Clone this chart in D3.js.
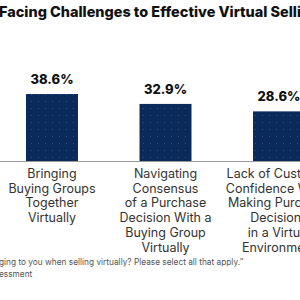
<!DOCTYPE html>
<html><head><meta charset="utf-8">
<script src="https://cdn.jsdelivr.net/npm/d3@7"></script>
<style>html,body{margin:0;padding:0;background:#fff;overflow:hidden}</style>
</head><body>
<script>
const titleText = "Facing Challenges to Effective Virtual Selli";
const categories = ["Bringing Buying Groups", "Navigating Consensus", "Lack of Customer Confidence"];
const values = [38.6, 32.9, 28.6];
const categoryLines = [
  ["Bringing", "Buying Groups", "Together", "Virtually"],
  ["Navigating", "Consensus", "of a Purchase", "Decision With a", "Buying Group", "Virtually"],
  ["Lack of Customer", "Confidence When", "Making Purchase", "Decisions", "in a Virtual", "Environment"]
];
const footnotes = [
  "ging to you when selling virtually? Please select all that apply.\u201D",
  "essment"
];

const W = 300, H = 300;
const svg = d3.select("body").append("svg").attr("width", W).attr("height", H);

const defs = svg.append("defs");
const pat = defs.append("pattern").attr("id", "dots").attr("patternUnits", "userSpaceOnUse")
  .attr("width", 7).attr("height", 7);
pat.append("rect").attr("width", 7).attr("height", 7).attr("fill", "#0b2a5c");
pat.append("rect").attr("x", 3).attr("y", 3).attr("width", 1).attr("height", 1).attr("fill", "rgba(255,255,255,0.18)");

const x = d3.scaleBand().domain(categories).range([26, 305]).paddingInner(0.542).paddingOuter(0);
const baseY = 161;
const y = d3.scaleLinear().domain([0, 40]).range([baseY, baseY - 69.4]);

// title
svg.append("text").attr("x", -1).attr("y", 17)
  .attr("font-family", "Inter, sans-serif").attr("font-weight", 800).attr("font-size", 14.5)
  .attr("textLength", 302).attr("lengthAdjust", "spacingAndGlyphs")
  .attr("fill", "#111").text(titleText);

// bars
svg.selectAll("rect.bar").data(values).join("rect").attr("class", "bar")
  .attr("x", (d, i) => x(categories[i])).attr("width", x.bandwidth())
  .attr("y", d => y(d)).attr("height", d => baseY - y(d))
  .attr("fill", "url(#dots)");

// baseline
svg.append("line").attr("x1", 0).attr("x2", W).attr("y1", baseY + 0.5).attr("y2", baseY + 0.5)
  .attr("stroke", "#999").attr("stroke-width", 1);

// value labels
svg.selectAll("text.val").data(values).join("text").attr("class", "val")
  .attr("x", (d, i) => x(categories[i]) + x.bandwidth() / 2).attr("y", d => y(d) - 10)
  .attr("text-anchor", "middle").attr("font-family", "Inter, sans-serif").attr("font-weight", 800)
  .attr("font-size", 13).attr("fill", "#111").text(d => d.toFixed(1) + "%");

// category labels
categoryLines.forEach((lines, i) => {
  const cx = x(categories[i]) + x.bandwidth() / 2;
  const t = svg.append("text").attr("text-anchor", "middle")
    .attr("font-family", "Inter, sans-serif").attr("font-size", 12.5).attr("fill", "#333");
  lines.forEach((ln, j) => {
    t.append("tspan").attr("x", cx).attr("y", 178 + j * 14.7).text(ln);
  });
});

// footnotes
footnotes.forEach((f, j) => {
  svg.append("text").attr("x", -1).attr("y", 265 + j * 12)
    .attr("font-family", "Inter, sans-serif").attr("font-size", 8.3).attr("fill", "#555").text(f);
});
</script>
</body></html>
